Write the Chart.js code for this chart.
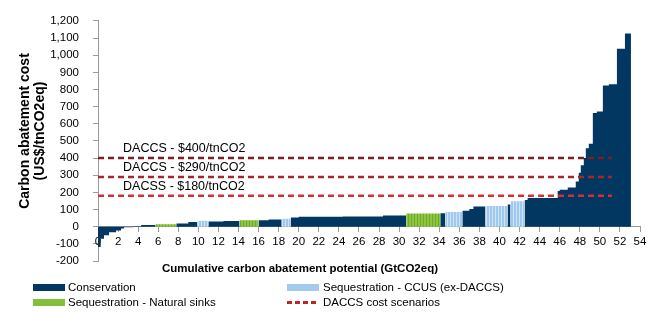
<!DOCTYPE html>
<html>
<head>
<meta charset="utf-8">
<script src="https://cdn.jsdelivr.net/npm/chart.js@4/dist/chart.umd.min.js"></script>
<style>
  html, body { margin: 0; padding: 0; background: #fff; }
  #wrap { position: relative; width: 660px; height: 314px; font-family: "Liberation Sans", Arial, sans-serif; }
  #c { position: absolute; left: 0; top: 0; }
  .txt { position: absolute; font-size: 11.5px; line-height: 14px; color: #000; white-space: nowrap; }
  .sw { position: absolute; width: 32px; height: 7px; }
</style>
</head>
<body>
<div id="wrap">
  <canvas id="c" width="660" height="314"></canvas>
  <div class="sw" style="left:33px; top:284px; background:#023761;"></div>
  <div class="txt" style="left:68px; top:280px;">Conservation</div>
  <div class="sw" style="left:287px; top:284px; background:#a3cbee;"></div>
  <div class="txt" style="left:323px; top:280px;">Sequestration - CCUS (ex-DACCS)</div>
  <div class="sw" style="left:33px; top:299px; background:#84bf3c;"></div>
  <div class="txt" style="left:68px; top:295px;">Sequestration - Natural sinks</div>
  <div class="sw" style="left:287px; top:301px; height:2.5px; background:repeating-linear-gradient(90deg, #b8282a 0 5px, transparent 5px 8px);"></div>
  <div class="txt" style="left:323px; top:295px;">DACCS cost scenarios</div>
</div>
<script>
// abatement measures, in merit order: width = GtCO2eq, cost = US$/tnCO2eq
// C = conservation, S = sequestration CCUS (ex-DACCS), N = natural sinks
const segWidths = [0.27, 0.33, 0.5, 0.7, 0.5, 0.3, 0.9, 0.8, 1.4, 2.1,
                   1.2, 0.9, 1.1, 1.5, 1.6, 1.9, 1.0, 1.3, 0.9, 0.8,
                   4.4, 4.0, 2.3, 3.4, 0.5, 1.7, 0.7, 0.4, 1.2, 2.2,
                   0.3, 1.4, 0.3, 3.0, 0.2, 0.8, 0.8, 0.3, 0.2, 0.3,
                   0.2, 0.3, 0.4, 0.4, 0.6, 0.6, 0.8, 0.8, 0.6];
const segCosts = [-118, -70, -50, -32, -22, -10, -3, 2, 10, 15,
                  18, 27, 34, 30, 33, 38, 38, 42, 47, 53,
                  58, 60, 66, 77, 78, 86, 93, 103, 118, 120,
                  130, 149, 155, 168, 208, 215, 229, 263, 314, 358,
                  400, 457, 484, 663, 672, 823, 830, 1038, 1126];
const segTypes = ["C", "C", "C", "C", "C", "C", "C", "C", "C", "N",
                  "C", "C", "S", "C", "C", "N", "C", "C", "S", "C",
                  "C", "C", "C", "N", "C", "S", "C", "C", "C", "S",
                  "C", "S", "C", "C", "C", "C", "C", "C", "C", "C",
                  "C", "C", "C", "C", "C", "C", "C", "C", "C"];

const scenarioCosts = [400, 290, 180];
const scenarioLabels = ["DACCS - $400/tnCO2", "DACCS - $290/tnCO2", "DACSS - $180/tnCO2"];
const scenarioColors = ["#7c1f22", "#a2282a", "#cf3236"];
const scenarioEnd = 51.2;

const xTickStep = 2;
const yTickStep = 100;

Chart.defaults.font.family = '"Liberation Sans", Arial, sans-serif';
Chart.defaults.color = "#000";

const ctx = document.getElementById("c").getContext("2d");

function stripes(base, line) {
    let c = document.createElement("canvas");
    c.width = 3; c.height = 4;
    let g = c.getContext("2d");
    g.fillStyle = base; g.fillRect(0, 0, 3, 4);
    g.fillStyle = line; g.fillRect(0, 0, 1, 4);
    return ctx.createPattern(c, "repeat");
}

// stepped outline per type; a run of same-type measures stays one shape
function blocks(type) {
    let pts = [];
    let x = 0;
    segWidths.forEach((w, i) => {
        if (segTypes[i] === type) {
            pts.push({ x: x, y: segCosts[i] });
            let last = i === segWidths.length - 1 || segTypes[i + 1] !== type;
            if (last) {
                pts.push({ x: x + w, y: segCosts[i] });
                pts.push({ x: x + w, y: null });
            }
        }
        x += w;
    });
    return pts;
}

function blockSet(label, type, fillColor) {
    return {
        label: label,
        data: blocks(type),
        backgroundColor: fillColor,
        borderColor: "rgba(0,0,0,0)",
        borderWidth: 0,
        pointRadius: 0,
        stepped: "before",
        fill: "origin",
        spanGaps: false,
        order: 2
    };
}

const datasets = scenarioCosts.map((c, i) => ({
    label: scenarioLabels[i],
    data: [{ x: 0, y: c }, { x: scenarioEnd, y: c }],
    borderColor: scenarioColors[i],
    borderWidth: 2.5,
    borderDash: [6, 4],
    pointRadius: 0,
    fill: false,
    order: 1
}));
datasets.push(blockSet("Conservation", "C", "#023761"));
datasets.push(blockSet("Sequestration - CCUS (ex-DACCS)", "S", stripes("#9fc9ee", "#cfe3f6")));
datasets.push(blockSet("Sequestration - Natural sinks", "N", stripes("#8cc540", "#72a92d")));

const annotate = {
    id: "annotate",
    afterDraw(chart) {
        const { ctx, scales: { x, y } } = chart;
        ctx.save();
        ctx.fillStyle = "#000";
        ctx.font = '12.5px "Liberation Sans", Arial, sans-serif';
        ctx.textAlign = "left";
        ctx.textBaseline = "alphabetic";
        scenarioCosts.forEach((c, i) => {
            ctx.fillText(scenarioLabels[i], x.getPixelForValue(2.5), y.getPixelForValue(c) - 6);
        });
        // axis titles
        ctx.font = 'bold 11.5px "Liberation Sans", Arial, sans-serif';
        ctx.textAlign = "center";
        ctx.textBaseline = "middle";
        ctx.fillText("Cumulative carbon abatement potential (GtCO2eq)", 300, 269);
        ctx.font = 'bold 14px "Liberation Sans", Arial, sans-serif';
        ctx.translate(25, 131);
        ctx.rotate(-Math.PI / 2);
        ctx.fillText("Carbon abatement cost", 0, 0);
        ctx.fillText("(US$/tnCO2eq)", 0, 15);
        ctx.restore();
    }
};

new Chart(ctx, {
    type: "line",
    data: { datasets: datasets },
    options: {
        responsive: false,
        animation: false,
        layout: { padding: { top: 16, right: 20, bottom: 53, left: 0 } },
        plugins: { legend: { display: false }, tooltip: { enabled: false } },
        scales: {
            x: {
                type: "linear",
                min: 0,
                max: 54,
                position: { y: 0 },
                z: 1,
                ticks: { stepSize: xTickStep, autoSkip: false, maxRotation: 0, padding: 3, font: { size: 11.5 } },
                grid: { drawOnChartArea: false, drawTicks: true, tickLength: 5, color: "#9a9a9a" },
                border: { color: "#9a9a9a" }
            },
            y: {
                type: "linear",
                min: -200,
                max: 1200,
                ticks: { stepSize: yTickStep, padding: 14, font: { size: 11.5 } },
                grid: { drawOnChartArea: false, drawTicks: true, tickLength: 5, color: "#9a9a9a" },
                border: { color: "#9a9a9a" },
                afterFit(s) { s.width = 98; }
            }
        }
    },
    plugins: [annotate]
});
</script>
</body>
</html>
